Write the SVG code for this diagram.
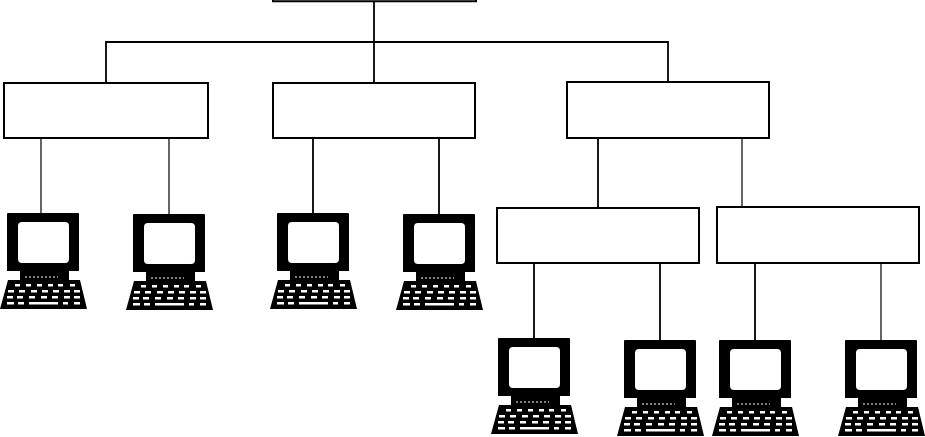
<svg xmlns="http://www.w3.org/2000/svg" width="925" height="437" viewBox="0 0 925 437">
<style>
.box{fill:#fff;stroke:#000;stroke-width:2}
.ln{fill:none;stroke:#000;stroke-width:1.8}
.thin{fill:none;stroke:#000;stroke-width:1.2}
.k{fill:#fff}
</style>
<defs>
<g id="pc">
<path d="M1 0H71Q72 0 72 1V58H62V67H73L80 96H-7L1 67H13V58H0V1Q0 0 1 0Z" fill="#000"/>
<rect class="k" x="11" y="9" width="51" height="41" rx="4"/>
<path d="M18 64H51" stroke="#fff" stroke-width="1" stroke-dasharray="2 2" fill="none"/>
<g class="k">
<rect x="8" y="71" width="5" height="2.5"/><rect x="19" y="71" width="5" height="2.5"/><rect x="30" y="71" width="5" height="2.5"/><rect x="41" y="71" width="5" height="2.5"/><rect x="51" y="71" width="5" height="2.5"/><rect x="63" y="71" width="5" height="2.5"/>
<rect x="1" y="77" width="6" height="2.5"/><rect x="12" y="77" width="6" height="2.5"/><rect x="24" y="77" width="6" height="2.5"/><rect x="35" y="77" width="6" height="2.5"/><rect x="46" y="77" width="6" height="2.5"/><rect x="57" y="77" width="6" height="2.5"/><rect x="67" y="77" width="6" height="2.5"/>
<rect x="0" y="83" width="6" height="2.5"/><rect x="10" y="83" width="6" height="2.5"/><rect x="22" y="83" width="6" height="2.5"/><rect x="34" y="83" width="6" height="2.5"/><rect x="45" y="83" width="6" height="2.5"/><rect x="57" y="83" width="6" height="2.5"/><rect x="67" y="83" width="6" height="2.5"/>
<rect x="0" y="89" width="7" height="2.5"/><rect x="11" y="89" width="6" height="2.5"/><rect x="22" y="89" width="29" height="2.5"/><rect x="56" y="89" width="5" height="2.5"/><rect x="67" y="89" width="6" height="2.5"/>
</g>
</g>
</defs>
<g id="connectors">
<path class="ln" d="M374 2V82M106 82V42H668V82"/>
<path class="thin" d="M41 138V213M169 138V214M742 138V208M881 263V340"/>
<path class="ln" d="M313 138V213M439 138V214M598 138V208"/>
<path class="ln" d="M534 263V338M660 263V340M755 263V340"/>
</g>
<g id="root"><path class="box" d="M273 -3V1.3H476V-3"/></g>
<g id="n1"><rect class="box" x="4" y="83" width="204" height="55"/></g>
<g id="n2"><rect class="box" x="273" y="83" width="202" height="55"/></g>
<g id="n3"><rect class="box" x="567" y="82" width="202" height="56"/></g>
<g id="n4"><rect class="box" x="497" y="208" width="202" height="55"/></g>
<g id="n5"><rect class="box" x="717" y="207" width="202" height="56"/></g>
<g id="pc1"><use href="#pc" x="7" y="213"/></g>
<g id="pc2"><use href="#pc" x="133" y="214"/></g>
<g id="pc3"><use href="#pc" x="277" y="213"/></g>
<g id="pc4"><use href="#pc" x="403" y="214"/></g>
<g id="pc5"><use href="#pc" x="498" y="338"/></g>
<g id="pc6"><use href="#pc" x="624" y="340"/></g>
<g id="pc7"><use href="#pc" x="719" y="340"/></g>
<g id="pc8"><use href="#pc" x="845" y="340"/></g>
</svg>
